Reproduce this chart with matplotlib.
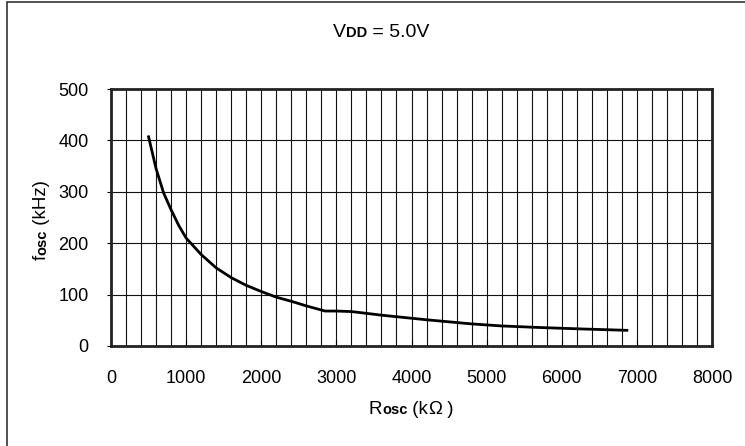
import matplotlib
matplotlib.use("Agg")
import matplotlib.pyplot as plt
from matplotlib.patches import Rectangle

plt.rcParams['font.family'] = ['Liberation Sans', 'DejaVu Sans']

# Rosc (kOhm) vs fosc (kHz), VDD = 5.0V
r_osc = [500, 600, 700, 800, 900, 1000, 1200, 1400, 1600, 1800, 2000, 2200,
         2400, 2600, 2850, 3000, 3200, 3600, 4200, 4800, 5200, 5700, 6300, 6867]
f_osc = [407, 345, 298, 265, 235, 210, 178, 152, 133, 118, 106, 95,
         87, 78, 68, 68, 67, 60, 51, 43, 39, 36, 33, 30.5]

x_ticks = [0, 1000, 2000, 3000, 4000, 5000, 6000, 7000, 8000]
y_ticks = [0, 100, 200, 300, 400, 500]

W, H = 745, 446
fig = plt.figure(figsize=(W / 100, H / 100), dpi=100)

# outer frame (only left/top edges visible in the original crop)
fig.patches.append(Rectangle((7 / W, -0.1), 2.0, (H - 2) / H + 0.1,
                             transform=fig.transFigure, fill=False,
                             edgecolor='#333333', linewidth=1.2))

ax = fig.add_axes([111 / W, 1 - 346 / H, (712 - 111) / W, (346 - 89) / H])
ax.plot(r_osc, f_osc, color='black', linewidth=2)

ax.set_xlim(0, 8000)
ax.set_ylim(0, 500)
ax.set_xticks(x_ticks)
ax.set_yticks(y_ticks)
ax.set_xticks(range(0, 8001, 200), minor=True)
ax.grid(True, which='both', axis='x', color='#111111', linewidth=0.8)
ax.grid(True, which='major', axis='y', color='#111111', linewidth=0.8)
ax.tick_params(axis='x', which='major', direction='in', length=4, pad=17, labelsize=13)
ax.tick_params(axis='x', which='minor', length=0)
ax.tick_params(axis='y', direction='out', length=3, pad=13, labelsize=13)
for s in ax.spines.values():
    s.set_linewidth(2)
    s.set_color('#222222')


def rich_text(x, y, parts):
    """Place horizontal text pieces one after another (figure pixels, baseline y)."""
    renderer = fig.canvas.get_renderer()
    items = []
    total = 0
    for txt, size, weight in parts:
        t = fig.text(0, 0, txt, fontsize=size, fontweight=weight,
                     va='baseline', ha='left')
        w = t.get_window_extent(renderer).width
        items.append((t, w))
        total += w
    pos = x - total / 2
    for t, w in items:
        t.set_position((pos / W, 1 - y / H))
        pos += w


def rich_text_vertical(x, y, parts):
    renderer = fig.canvas.get_renderer()
    objs, ws = [], []
    for txt, size, weight in parts:
        t = fig.text(0, 0, txt, fontsize=size, fontweight=weight, rotation=90,
                     va='baseline', ha='left', rotation_mode='anchor')
        ws.append(t.get_window_extent(renderer).height)
        objs.append(t)
    ycur = y + sum(ws) / 2
    for t, w in zip(objs, ws):
        t.set_position((x / W, 1 - ycur / H))
        ycur -= w


fig.canvas.draw()
rich_text(381, 37, [("V", 14, 'normal'), ("DD", 10.5, 'bold'), (" = 5.0V", 14, 'normal')])
rich_text(411, 414, [("R", 13.5, 'normal'), ("osc", 10.5, 'bold'), (" (k", 13.5, 'normal'),
                     ("\u03a9", 13.5, 'normal'), (" )", 13.5, 'normal')])
rich_text_vertical(46, 220, [("f", 13.5, 'normal'), ("osc", 10.5, 'bold'),
                             (" (kHz)", 13.5, 'normal')])

fig.savefig("out.png", dpi=100)
